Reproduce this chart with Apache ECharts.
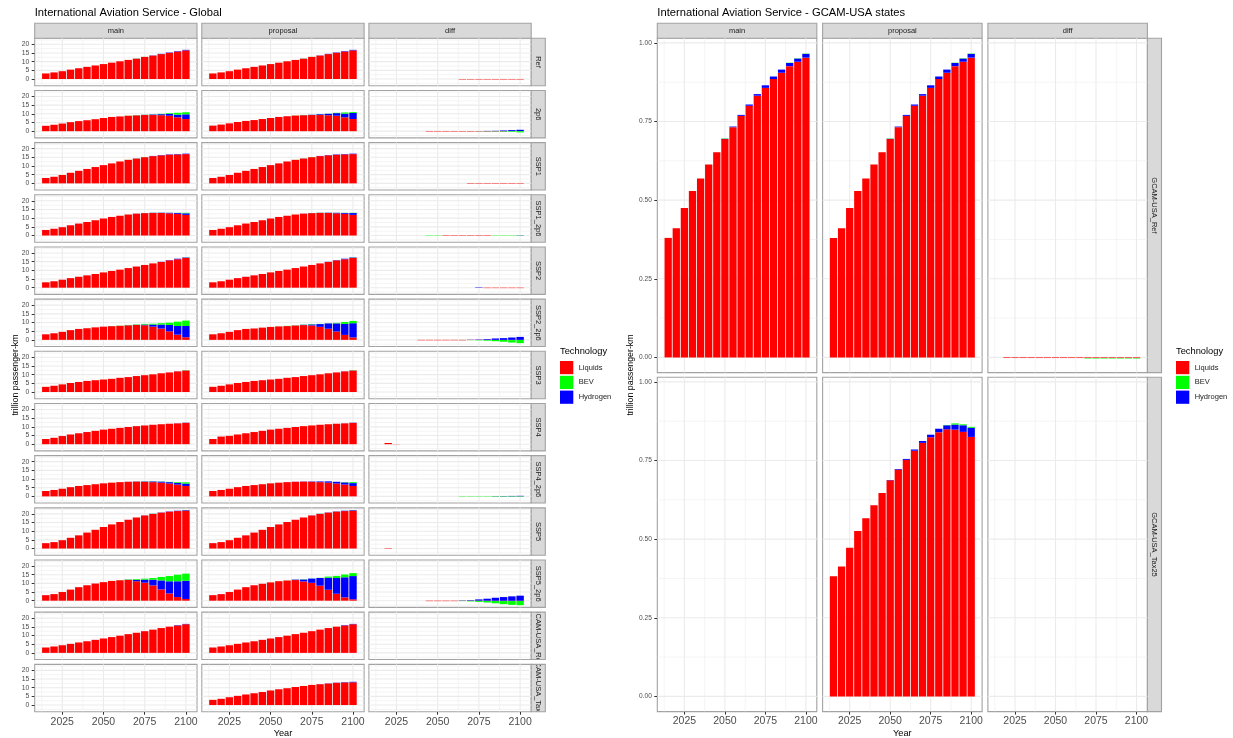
<!DOCTYPE html>
<html>
<head>
<meta charset="utf-8">
<title>International Aviation Service</title>
<script src="https://cdn.jsdelivr.net/npm/echarts@6/dist/echarts.min.js"></script>
<style>
  html, body { margin: 0; padding: 0; background: #ffffff; }
  #chart { width: 1233px; height: 738px; }
</style>
</head>
<body>
<div id="chart"></div>
<script>
// ---------------------------------------------------------------
// Data: trillion passenger-km by technology, 2015-2100
// ---------------------------------------------------------------
const years = [2015,2020,2025,2030,2035,2040,2045,2050,2055,2060,2065,2070,2075,2080,2085,2090,2095,2100];
const scenarios = ['Ref','2p6','SSP1','SSP1_2p6','SSP2','SSP2_2p6','SSP3','SSP4','SSP4_2p6','SSP5','SSP5_2p6','GCAM-USA_Ref','GCAM-USA_Tax25'];
const versions = ['main','proposal','diff'];
const techs = ['Liquids','BEV','Hydrogen'];
const xTickYears = [2025, 2050, 2075, 2100];
const globalTicks = [0, 5, 10, 15, 20];
const statesTicks = [0, 0.25, 0.5, 0.75, 1];
const zeros18 = [0,0,0,0,0,0,0,0,0,0,0,0,0,0,0,0,0,0];

// Global — Ref
const g_Ref_main_liq = [3.2,3.8,4.5,5.4,6.2,7.0,7.8,8.6,9.4,10.2,11.0,11.7,12.75,13.5,14.35,15.1,15.85,16.5];
const g_Ref_main_bev = [0,0,0,0,0,0,0,0,0,0,0,0.1,0.05,0,0,0,0,0];
const g_Ref_main_h2  = [0,0,0,0,0,0,0,0,0,0,0,0.05,0,0.1,0.15,0.2,0.25,0.3];
const g_Ref_prop_liq = [3.2,3.8,4.5,5.4,6.2,7.0,7.8,8.6,9.4,10.2,11.0,11.7,12.75,13.5,14.35,15.1,15.85,16.5];
const g_Ref_prop_bev = [0,0,0,0,0,0,0,0,0,0,0,0.1,0.05,0,0,0,0,0];
const g_Ref_prop_h2  = [0,0,0,0,0,0,0,0,0,0,0,0.05,0,0.1,0.15,0.2,0.25,0.3];
const g_Ref_diff_liq = [0,0,0,0,0,0,0,0,0,0,-0.25,-0.25,-0.25,-0.25,-0.25,-0.25,-0.25,-0.25];

// Global — 2p6
const g_2p6_main_liq = [3.1,3.7,4.4,5.2,5.8,6.3,6.9,7.6,8.2,8.5,8.9,9.1,9.3,9.3,9.2,8.9,8.0,7.0];
const g_2p6_main_bev = [0,0,0,0,0,0,0,0,0,0,0.05,0.1,0.1,0.1,0.2,0.4,1.1,1.2];
const g_2p6_main_h2  = [0,0,0,0,0,0,0,0,0,0,0,0.05,0.1,0.3,0.6,1.1,1.5,2.7];
const g_2p6_prop_liq = [3.2,3.8,4.5,5.3,5.9,6.4,7.0,7.6,8.2,8.6,9.0,9.2,9.3,9.3,9.2,8.9,8.0,7.0];
const g_2p6_prop_bev = [0,0,0,0,0,0,0,0,0,0,0.05,0.1,0.05,0.05,0.1,0.2,0.7,0.5];
const g_2p6_prop_h2  = [0,0,0,0,0,0,0,0,0,0,0,0.05,0.15,0.45,0.8,1.5,2.1,3.5];
const g_2p6_diff_liq = [0,0,0,0,0,0,-0.25,-0.25,-0.25,-0.25,-0.25,-0.25,-0.2,-0.2,-0.2,-0.2,0,0];
const g_2p6_diff_bev = [0,0,0,0,0,0,0,0,0,0,0,0,-0.05,-0.1,-0.15,-0.2,-0.4,-0.7];
const g_2p6_diff_h2  = [0,0,0,0,0,0,0,0,0,0,0,0,0.05,0.15,0.2,0.4,0.6,0.8];

// Global — SSP1
const g_SSP1_main_liq = [3.1,3.8,4.8,6.1,7.2,8.3,9.4,10.5,11.5,12.6,13.55,14.3,15.1,15.7,16.15,16.5,16.7,16.85];
const g_SSP1_main_bev = [0,0,0,0,0,0,0,0,0,0,0.05,0.05,0.1,0,0,0,0,0];
const g_SSP1_main_h2  = [0,0,0,0,0,0,0,0,0,0,0,0.05,0,0.1,0.15,0.2,0.2,0.25];
const g_SSP1_prop_liq = [3.1,3.8,4.8,6.1,7.2,8.3,9.4,10.5,11.5,12.6,13.55,14.3,15.1,15.7,16.15,16.5,16.7,16.85];
const g_SSP1_prop_bev = [0,0,0,0,0,0,0,0,0,0,0.05,0.05,0.1,0,0,0,0,0];
const g_SSP1_prop_h2  = [0,0,0,0,0,0,0,0,0,0,0,0.05,0,0.1,0.15,0.2,0.2,0.25];
const g_SSP1_diff_liq = [0,0,0,0,0,0,0,0,0,0,0,-0.25,-0.25,-0.25,-0.25,-0.25,-0.25,-0.25];

// Global — SSP1_2p6
const g_SSP1_2p6_main_liq = [3.2,3.9,4.8,5.9,6.9,7.8,8.8,9.8,10.7,11.4,12.1,12.6,12.9,13.0,13.0,12.8,12.5,11.9];
const g_SSP1_2p6_main_bev = [0,0,0,0,0,0,0,0,0,0,0,0,0.05,0.05,0.05,0.05,0.1,0.3];
const g_SSP1_2p6_main_h2  = [0,0,0,0,0,0,0,0,0,0,0,0.05,0.05,0.1,0.15,0.3,0.5,0.9];
const g_SSP1_2p6_prop_liq = [3.2,3.9,4.8,5.9,6.9,7.8,8.8,9.8,10.7,11.4,12.1,12.6,12.9,13.0,13.0,12.8,12.5,11.9];
const g_SSP1_2p6_prop_bev = [0,0,0,0,0,0,0,0,0,0,0,0,0.05,0.05,0.05,0.05,0.1,0.15];
const g_SSP1_2p6_prop_h2  = [0,0,0,0,0,0,0,0,0,0,0,0.05,0.05,0.1,0.15,0.3,0.5,1.05];
const g_SSP1_2p6_diff_liq = [0,0,0,0,0,0,0,0,-0.25,-0.25,-0.25,-0.25,-0.25,-0.25,0,0,0,0];
const g_SSP1_2p6_diff_bev = [0,0,0,0,0,0,-0.2,-0.2,0,0,0,0,0,0,-0.2,-0.2,-0.2,-0.15];
const g_SSP1_2p6_diff_h2  = [0,0,0,0,0,0,0,0,0,0,0,0,0,0,0,0,0,0.15];

// Global — SSP2
const g_SSP2_main_liq = [3.1,3.7,4.6,5.5,6.3,7.1,7.9,8.8,9.6,10.4,11.3,12.2,13.1,14.0,14.8,15.75,16.4,17.15];
const g_SSP2_main_bev = [0,0,0,0,0,0,0,0,0,0,0,0,0,0,0,0,0,0.1];
const g_SSP2_main_h2  = [0,0,0,0,0,0,0,0,0,0,0,0,0,0,0.1,0.15,0.3,0.25];
const g_SSP2_prop_liq = [3.1,3.7,4.6,5.5,6.3,7.1,7.9,8.8,9.6,10.4,11.3,12.2,13.1,14.0,14.8,15.75,16.4,17.15];
const g_SSP2_prop_bev = [0,0,0,0,0,0,0,0,0,0,0,0,0,0,0,0,0,0.1];
const g_SSP2_prop_h2  = [0,0,0,0,0,0,0,0,0,0,0,0,0,0,0.1,0.15,0.3,0.25];
const g_SSP2_diff_liq = [0,0,0,0,0,0,0,0,0,0,0,0,0,-0.25,-0.25,-0.25,-0.25,-0.25];
const g_SSP2_diff_h2  = [0,0,0,0,0,0,0,0,0,0,0,0,0.25,0,0,0,0,0];

// Global — SSP2_2p6
const g_SSP2_2p6_main_liq = [3.2,3.8,4.6,5.6,6.3,6.7,7.2,7.6,7.9,8.1,8.4,8.6,8.4,7.6,6.5,4.9,3.0,1.5];
const g_SSP2_2p6_main_bev = [0,0,0,0,0,0,0,0,0.05,0.1,0.15,0.2,0.4,0.5,0.8,1.3,2.5,3.1];
const g_SSP2_2p6_main_h2  = [0,0,0,0,0,0,0,0,0,0,0.05,0.1,0.4,1.2,2.3,3.7,5.0,6.5];
const g_SSP2_2p6_prop_liq = [3.2,3.8,4.6,5.6,6.3,6.55,7.05,7.45,7.75,7.95,8.25,8.5,8.3,7.5,6.4,4.8,2.85,1.4];
const g_SSP2_2p6_prop_bev = [0,0,0,0,0,0,0,0,0.05,0.1,0.1,0.1,0.2,0.1,0.1,0.3,1.1,1.3];
const g_SSP2_2p6_prop_h2  = [0,0,0,0,0,0,0,0,0,0,0.05,0.2,0.6,1.6,3.1,4.7,6.35,8.2];
const g_SSP2_2p6_diff_liq = [0,0,0,0,0,-0.25,-0.25,-0.25,-0.25,-0.25,-0.25,-0.1,-0.1,-0.1,-0.1,-0.1,-0.15,-0.1];
const g_SSP2_2p6_diff_bev = [0,0,0,0,0,0,0,0,0,0,-0.05,-0.1,-0.2,-0.4,-0.7,-1.0,-1.4,-1.8];
const g_SSP2_2p6_diff_h2  = [0,0,0,0,0,0,0,0,0,0,0,0.1,0.2,0.4,0.8,1.0,1.35,1.7];

// Global — SSP3
const g_SSP3_main_liq = [3.0,3.6,4.4,5.2,5.8,6.4,6.8,7.2,7.6,8.2,8.6,9.2,9.7,10.2,10.8,11.3,11.9,12.4];
const g_SSP3_main_bev = [0,0,0,0,0,0,0,0,0,0,0,0,0,0,0,0,0,0.15];
const g_SSP3_main_h2  = [0,0,0,0,0,0,0,0,0,0,0,0,0,0,0,0,0.05,0.05];
const g_SSP3_prop_liq = [3.0,3.6,4.4,5.2,5.8,6.4,6.8,7.2,7.6,8.2,8.6,9.2,9.7,10.2,10.8,11.3,11.9,12.4];
const g_SSP3_prop_bev = [0,0,0,0,0,0,0,0,0,0,0,0,0,0,0,0,0,0.15];
const g_SSP3_prop_h2  = [0,0,0,0,0,0,0,0,0,0,0,0,0,0,0,0,0.05,0.05];

// Global — SSP4
const g_SSP4_main_liq = [3.0,3.7,4.7,5.6,6.3,7.0,7.7,8.4,8.9,9.4,9.9,10.4,10.8,11.2,11.5,11.8,12.0,12.3];
const g_SSP4_main_h2  = [0,0,0,0,0,0,0,0,0,0,0,0,0,0,0,0,0.05,0.1];
const g_SSP4_prop_liq = [3.0,4.4,4.8,5.6,6.3,7.0,7.7,8.4,8.9,9.4,9.9,10.4,10.8,11.2,11.5,11.8,12.0,12.3];
const g_SSP4_prop_h2  = [0,0,0,0,0,0,0,0,0,0,0,0,0,0,0,0,0.05,0.1];
const g_SSP4_diff_liq = [0,0.7,0.1,0,0,0,0,0,0,0,0,0,0,0,0,0,0,0];

// Global — SSP4_2p6
const g_SSP4_2p6_main_liq = [3.1,3.7,4.4,5.3,6.0,6.5,7.0,7.5,7.9,8.2,8.4,8.5,8.4,8.2,7.9,7.4,6.8,6.0];
const g_SSP4_2p6_main_bev = [0,0,0,0,0,0,0,0,0,0,0,0.05,0.1,0.1,0.1,0.15,0.4,0.75];
const g_SSP4_2p6_main_h2  = [0,0,0,0,0,0,0,0,0,0,0.05,0.1,0.2,0.4,0.6,0.8,1.0,1.35];
const g_SSP4_2p6_prop_liq = [3.1,3.7,4.4,5.3,6.0,6.5,7.0,7.5,7.9,8.2,8.4,8.5,8.4,8.2,7.9,7.4,6.8,6.0];
const g_SSP4_2p6_prop_bev = [0,0,0,0,0,0,0,0,0,0,0,0,0,0,0,0,0.2,0.55];
const g_SSP4_2p6_prop_h2  = [0,0,0,0,0,0,0,0,0,0,0.05,0.1,0.2,0.4,0.75,1.0,1.25,1.65];
const g_SSP4_2p6_diff_bev = [0,0,0,0,0,0,0,0,0,0,-0.2,-0.2,-0.2,-0.2,-0.2,-0.2,-0.2,-0.2];
const g_SSP4_2p6_diff_h2  = [0,0,0,0,0,0,0,0,0,0,0,0,0,0,0.15,0.2,0.25,0.3];

// Global — SSP5
const g_SSP5_main_liq = [3.1,3.7,4.8,6.2,7.6,9.2,10.8,12.4,13.9,15.3,16.6,17.9,19.05,19.9,20.7,21.25,21.6,21.85];
const g_SSP5_main_bev = [0,0,0,0,0,0,0,0,0,0,0,0,0,0.1,0,0,0,0.05];
const g_SSP5_main_h2  = [0,0,0,0,0,0,0,0,0,0,0,0,0.05,0.1,0.1,0.15,0.2,0.3];
const g_SSP5_prop_liq = [3.1,3.7,4.8,6.2,7.6,9.2,10.8,12.4,13.9,15.3,16.6,17.9,19.05,19.9,20.7,21.25,21.6,21.85];
const g_SSP5_prop_bev = [0,0,0,0,0,0,0,0,0,0,0,0,0,0.1,0,0,0,0.05];
const g_SSP5_prop_h2  = [0,0,0,0,0,0,0,0,0,0,0,0,0.05,0.1,0.1,0.15,0.2,0.3];
const g_SSP5_diff_liq = [0,0.25,0,0,0,0,0,0,0,0,0,0,0,0,0,0,0,0];

// Global — SSP5_2p6
const g_SSP5_2p6_main_liq = [3.2,3.8,5.0,6.4,7.8,8.9,9.9,10.7,11.4,11.8,12.0,11.2,10.4,8.8,6.5,4.2,2.1,1.0];
const g_SSP5_2p6_main_bev = [0,0,0,0,0,0,0,0,0,0.05,0.2,0.4,0.6,1.0,2.0,3.0,3.8,4.1];
const g_SSP5_2p6_main_h2  = [0,0,0,0,0,0,0,0,0,0,0.1,0.8,1.7,3.3,5.2,7.0,9.1,10.5];
const g_SSP5_2p6_prop_liq = [3.2,3.8,5.0,6.4,7.8,8.9,9.75,10.55,11.25,11.65,11.9,11.1,10.3,8.65,6.3,4.0,1.9,0.8];
const g_SSP5_2p6_prop_bev = [0,0,0,0,0,0,0,0,0,0.05,0.05,0.1,0.05,0.1,0.7,1.2,1.6,1.7];
const g_SSP5_2p6_prop_h2  = [0,0,0,0,0,0,0,0,0,0,0.25,1.1,2.45,4.45,6.9,9.1,11.6,13.4];
const g_SSP5_2p6_diff_liq = [0,0,0,0,0,0,-0.25,-0.25,-0.25,-0.25,-0.1,-0.1,-0.1,-0.15,-0.2,-0.2,-0.2,-0.2];
const g_SSP5_2p6_diff_bev = [0,0,0,0,0,0,0,0,0,0,-0.15,-0.3,-0.6,-0.9,-1.3,-1.8,-2.2,-2.4];
const g_SSP5_2p6_diff_h2  = [0,0,0,0,0,0,0,0,0,0,0.15,0.3,0.75,1.15,1.7,2.1,2.5,2.9];

// Global — GCAM-USA_Ref
const g_USARef_main_liq = [3.1,3.7,4.4,5.2,6.0,6.7,7.5,8.3,9.1,9.9,10.8,11.6,12.5,13.4,14.3,15.1,15.8,16.5];
const g_USARef_main_h2  = [0,0,0,0,0,0,0,0,0,0,0,0,0,0,0,0,0.2,0.2];
const g_USARef_prop_liq = [3.1,3.7,4.4,5.2,6.0,6.7,7.5,8.3,9.1,9.9,10.8,11.6,12.5,13.4,14.3,15.1,15.8,16.5];
const g_USARef_prop_h2  = [0,0,0,0,0,0,0,0,0,0,0,0,0,0,0,0,0.2,0.2];

// Global — GCAM-USA_Tax25 (proposal only)
const g_USATax_prop_liq = [3.0,3.6,4.5,5.3,6.1,6.8,7.5,8.4,9.1,9.7,10.4,11.0,11.6,12.0,12.4,12.8,13.0,13.1];
const g_USATax_prop_h2  = [0,0,0,0,0,0,0,0,0,0,0,0,0,0.05,0.1,0.1,0.2,0.3];

// GCAM-USA states — GCAM-USA_Ref
const s_Ref_main_liq = [0.380,0.411,0.475,0.529,0.569,0.613,0.652,0.694,0.732,0.768,0.800,0.832,0.857,0.885,0.905,0.926,0.940,0.953];
const s_Ref_main_bev = [0,0,0,0,0,0,0,0.001,0,0,0,0,0,0,0,0.001,0.001,0.001];
const s_Ref_main_h2  = [0,0,0,0,0,0,0,0.001,0.002,0.003,0.004,0.005,0.008,0.008,0.010,0.010,0.010,0.012];
const s_Ref_prop_liq = [0.380,0.411,0.475,0.529,0.569,0.613,0.652,0.694,0.732,0.768,0.800,0.832,0.857,0.885,0.905,0.926,0.940,0.953];
const s_Ref_prop_bev = [0,0,0,0,0,0,0,0.001,0,0,0,0,0,0,0,0.001,0.001,0.001];
const s_Ref_prop_h2  = [0,0,0,0,0,0,0,0.001,0.002,0.003,0.004,0.005,0.008,0.008,0.010,0.010,0.010,0.012];
const s_Ref_diff_liq = [0,-0.002,-0.002,-0.002,-0.002,-0.002,-0.002,-0.002,-0.002,-0.002,-0.002,-0.002,-0.002,-0.002,-0.002,-0.002,-0.002,-0.002];
const s_Ref_diff_bev = [0,0,0,0,0,0,0,0,0,0,0,-0.0015,-0.0015,-0.0015,-0.0015,-0.0015,-0.0015,-0.0015];

// GCAM-USA states — GCAM-USA_Tax25 (proposal only)
const s_Tax_prop_liq = [0.382,0.413,0.473,0.526,0.566,0.608,0.647,0.687,0.721,0.752,0.781,0.806,0.824,0.840,0.849,0.848,0.841,0.825];
const s_Tax_prop_bev = [0,0,0,0,0,0,0,0,0,0,0,0,0,0,0.001,0.004,0.003,0.003];
const s_Tax_prop_h2  = [0,0,0,0,0,0,0,0.001,0.002,0.003,0.004,0.006,0.008,0.011,0.013,0.016,0.021,0.029];

// ---------------------------------------------------------------
// Lookup tables built from the arrays above
// ---------------------------------------------------------------
const tri = (liq, bev, h2) => ({ Liquids: liq, BEV: bev, Hydrogen: h2 });

const globalTable = {
  'Ref':           { main: tri(g_Ref_main_liq, g_Ref_main_bev, g_Ref_main_h2), proposal: tri(g_Ref_prop_liq, g_Ref_prop_bev, g_Ref_prop_h2), diff: tri(g_Ref_diff_liq, zeros18, zeros18) },
  '2p6':           { main: tri(g_2p6_main_liq, g_2p6_main_bev, g_2p6_main_h2), proposal: tri(g_2p6_prop_liq, g_2p6_prop_bev, g_2p6_prop_h2), diff: tri(g_2p6_diff_liq, g_2p6_diff_bev, g_2p6_diff_h2) },
  'SSP1':          { main: tri(g_SSP1_main_liq, g_SSP1_main_bev, g_SSP1_main_h2), proposal: tri(g_SSP1_prop_liq, g_SSP1_prop_bev, g_SSP1_prop_h2), diff: tri(g_SSP1_diff_liq, zeros18, zeros18) },
  'SSP1_2p6':      { main: tri(g_SSP1_2p6_main_liq, g_SSP1_2p6_main_bev, g_SSP1_2p6_main_h2), proposal: tri(g_SSP1_2p6_prop_liq, g_SSP1_2p6_prop_bev, g_SSP1_2p6_prop_h2), diff: tri(g_SSP1_2p6_diff_liq, g_SSP1_2p6_diff_bev, g_SSP1_2p6_diff_h2) },
  'SSP2':          { main: tri(g_SSP2_main_liq, g_SSP2_main_bev, g_SSP2_main_h2), proposal: tri(g_SSP2_prop_liq, g_SSP2_prop_bev, g_SSP2_prop_h2), diff: tri(g_SSP2_diff_liq, zeros18, g_SSP2_diff_h2) },
  'SSP2_2p6':      { main: tri(g_SSP2_2p6_main_liq, g_SSP2_2p6_main_bev, g_SSP2_2p6_main_h2), proposal: tri(g_SSP2_2p6_prop_liq, g_SSP2_2p6_prop_bev, g_SSP2_2p6_prop_h2), diff: tri(g_SSP2_2p6_diff_liq, g_SSP2_2p6_diff_bev, g_SSP2_2p6_diff_h2) },
  'SSP3':          { main: tri(g_SSP3_main_liq, g_SSP3_main_bev, g_SSP3_main_h2), proposal: tri(g_SSP3_prop_liq, g_SSP3_prop_bev, g_SSP3_prop_h2), diff: tri(zeros18, zeros18, zeros18) },
  'SSP4':          { main: tri(g_SSP4_main_liq, zeros18, g_SSP4_main_h2), proposal: tri(g_SSP4_prop_liq, zeros18, g_SSP4_prop_h2), diff: tri(g_SSP4_diff_liq, zeros18, zeros18) },
  'SSP4_2p6':      { main: tri(g_SSP4_2p6_main_liq, g_SSP4_2p6_main_bev, g_SSP4_2p6_main_h2), proposal: tri(g_SSP4_2p6_prop_liq, g_SSP4_2p6_prop_bev, g_SSP4_2p6_prop_h2), diff: tri(zeros18, g_SSP4_2p6_diff_bev, g_SSP4_2p6_diff_h2) },
  'SSP5':          { main: tri(g_SSP5_main_liq, g_SSP5_main_bev, g_SSP5_main_h2), proposal: tri(g_SSP5_prop_liq, g_SSP5_prop_bev, g_SSP5_prop_h2), diff: tri(g_SSP5_diff_liq, zeros18, zeros18) },
  'SSP5_2p6':      { main: tri(g_SSP5_2p6_main_liq, g_SSP5_2p6_main_bev, g_SSP5_2p6_main_h2), proposal: tri(g_SSP5_2p6_prop_liq, g_SSP5_2p6_prop_bev, g_SSP5_2p6_prop_h2), diff: tri(g_SSP5_2p6_diff_liq, g_SSP5_2p6_diff_bev, g_SSP5_2p6_diff_h2) },
  'GCAM-USA_Ref':  { main: tri(g_USARef_main_liq, zeros18, g_USARef_main_h2), proposal: tri(g_USARef_prop_liq, zeros18, g_USARef_prop_h2), diff: tri(zeros18, zeros18, zeros18) },
  'GCAM-USA_Tax25':{ main: null, proposal: tri(g_USATax_prop_liq, zeros18, g_USATax_prop_h2), diff: null }
};

const statesScenarios = ['GCAM-USA_Ref', 'GCAM-USA_Tax25'];
const statesTable = {
  'GCAM-USA_Ref':   { main: tri(s_Ref_main_liq, s_Ref_main_bev, s_Ref_main_h2), proposal: tri(s_Ref_prop_liq, s_Ref_prop_bev, s_Ref_prop_h2), diff: tri(s_Ref_diff_liq, s_Ref_diff_bev, zeros18) },
  'GCAM-USA_Tax25': { main: null, proposal: tri(s_Tax_prop_liq, s_Tax_prop_bev, s_Tax_prop_h2), diff: null }
};

// ---------------------------------------------------------------
// Styling and layout
// ---------------------------------------------------------------
const FONT = '"Liberation Sans", Arial, Helvetica, sans-serif';
const techColors = { Liquids: '#FF0000', BEV: '#00FF00', Hydrogen: '#0000FF' };
const stackOrder = ['Liquids', 'Hydrogen', 'BEV'];     // bottom to top
const BORDER = '#A2A2A2';
const STRIP_FILL = '#D9D9D9';
const GRID_COLOR = '#EBEBEB';
const TEXT_DARK = '#1A1A1A';
const AXIS_TEXT = '#4D4D4D';

const X_MIN = 2008.275, X_MAX = 2106.725;
const xMinor = [2012.5, 2037.5, 2062.5, 2087.5];
const globalY = { min: -3.86, max: 23.46, major: globalTicks, minor: [-2.5, 2.5, 7.5, 12.5, 17.5, 22.5], fmt: v => String(v), labelSize: 6.8 };
const statesY = { min: -0.0483, max: 1.0145, major: statesTicks, minor: [0.125, 0.375, 0.625, 0.875], fmt: v => Number(v).toFixed(2), labelSize: 6.6 };

const globalLayout = { lefts: [34.7, 201.8, 368.9], width: 162.3, top0: 38.3, step: 52.17, height: 47.4 };
const statesLayout = { lefts: [657.3, 822.6, 987.9], width: 159.5, tops: [38.3, 377.3], height: 334.3 };
const STRIP_TOP = 23.3, STRIP_H = 15.0, SIDE_W = 14.1;

const grids = [], xAxes = [], yAxes = [], series = [], graphics = [];

function gridLineSeries(idx, yCfg) {
  return {
    type: 'custom', xAxisIndex: idx, yAxisIndex: idx, silent: true, animation: false, z: 1,
    data: [[2050, 0]],
    renderItem: function (params, api) {
      const kids = [];
      const seg = (a, b, w) => {
        const p1 = api.coord(a), p2 = api.coord(b);
        kids.push({ type: 'line', shape: { x1: p1[0], y1: p1[1], x2: p2[0], y2: p2[1] },
                    style: { stroke: GRID_COLOR, lineWidth: w } });
      };
      xMinor.forEach(v => seg([v, yCfg.min], [v, yCfg.max], 0.55));
      yCfg.minor.forEach(v => seg([X_MIN, v], [X_MAX, v], 0.55));
      xTickYears.forEach(v => seg([v, yCfg.min], [v, yCfg.max], 1.1));
      yCfg.major.forEach(v => seg([X_MIN, v], [X_MAX, v], 1.1));
      return { type: 'group', children: kids };
    }
  };
}

function addPanel(box, yCfg, stacks, showX, showY) {
  const idx = grids.length;
  grids.push({ left: box.x, top: box.y, width: box.w, height: box.h, show: true,
               backgroundColor: '#FFFFFF', borderColor: BORDER, borderWidth: 1.1, containLabel: false });
  xAxes.push({
    type: 'value', gridIndex: idx, min: X_MIN, max: X_MAX,
    axisLine: { show: false, onZero: false }, splitLine: { show: false },
    axisTick: { show: showX, customValues: xTickYears, length: 3, lineStyle: { color: '#333333', width: 1 } },
    axisLabel: { show: showX, customValues: xTickYears, formatter: v => String(v), fontSize: 10.5,
                 color: AXIS_TEXT, margin: 4.5, fontFamily: FONT }
  });
  yAxes.push({
    type: 'value', gridIndex: idx, min: yCfg.min, max: yCfg.max,
    axisLine: { show: false, onZero: false }, splitLine: { show: false },
    axisTick: { show: showY, customValues: yCfg.major, length: 3, lineStyle: { color: '#333333', width: 1 } },
    axisLabel: { show: showY, customValues: yCfg.major, formatter: yCfg.fmt, fontSize: yCfg.labelSize,
                 color: AXIS_TEXT, margin: 5.5, fontFamily: FONT }
  });
  series.push(gridLineSeries(idx, yCfg));
  if (stacks) {
    stackOrder.forEach(tech => {
      series.push({
        type: 'bar', name: tech, xAxisIndex: idx, yAxisIndex: idx,
        stack: 'panel' + idx, stackStrategy: 'samesign',
        barWidth: '90%', silent: true, animation: false, z: 3,
        itemStyle: { color: techColors[tech] },
        // value first so that the stack runs along the vertical axis
        encode: { x: 1, y: 0 },
        data: years.map((y, k) => [stacks[tech][k], y])
      });
    });
  }
}

// Side strip label drawn inside its own clipped grid, so long names are cut at the strip edges
function addClippedSideLabel(box, label) {
  const idx = grids.length;
  grids.push({ left: box.x, top: box.y, width: box.w, height: box.h, show: false, containLabel: false });
  xAxes.push({ type: 'value', gridIndex: idx, min: 0, max: 1, show: false });
  yAxes.push({ type: 'value', gridIndex: idx, min: 0, max: 1, show: false });
  series.push({
    type: 'custom', xAxisIndex: idx, yAxisIndex: idx, silent: true, animation: false, clip: true, z: 6,
    data: [[0.5, 0.5]],
    renderItem: function (params, api) {
      const c = api.coord([0.5, 0.5]);
      return { type: 'text', x: c[0], y: c[1], rotation: -Math.PI / 2,
               style: { text: label, font: '7.5px ' + FONT, fill: TEXT_DARK, align: 'center', verticalAlign: 'middle' } };
    }
  });
}

function stripRect(x, y, w, h) {
  graphics.push({ type: 'rect', silent: true, z: 0, shape: { x: x, y: y, width: w, height: h },
                  style: { fill: STRIP_FILL, stroke: BORDER, lineWidth: 1.1 } });
}
function text(x, y, str, size, opts) {
  const o = opts || {};
  graphics.push({ type: 'text', silent: true, z: 10, x: x, y: y, rotation: o.rotation || 0,
                  style: { text: str, font: (o.weight || 'normal') + ' ' + size + 'px ' + FONT,
                           fill: o.fill || '#000000', align: o.align || 'center', verticalAlign: 'middle' } });
}

// ---------------- Global block ----------------
scenarios.forEach((scen, r) => {
  const top = globalLayout.top0 + r * globalLayout.step;
  versions.forEach((ver, c) => {
    const box = { x: globalLayout.lefts[c], y: top, w: globalLayout.width, h: globalLayout.height };
    addPanel(box, globalY, globalTable[scen][ver], r === scenarios.length - 1, c === 0);
  });
  const sx = globalLayout.lefts[2] + globalLayout.width;
  stripRect(sx, top, SIDE_W, globalLayout.height);
  addClippedSideLabel({ x: sx + 0.6, y: top + 0.6, w: SIDE_W - 1.2, h: globalLayout.height - 1.2 }, scen);
});
versions.forEach((ver, c) => {
  stripRect(globalLayout.lefts[c], STRIP_TOP, globalLayout.width, STRIP_H);
  text(globalLayout.lefts[c] + globalLayout.width / 2, STRIP_TOP + STRIP_H / 2, ver, 7.5, { fill: TEXT_DARK });
});

// ---------------- GCAM-USA states block ----------------
statesScenarios.forEach((scen, r) => {
  const top = statesLayout.tops[r];
  versions.forEach((ver, c) => {
    const box = { x: statesLayout.lefts[c], y: top, w: statesLayout.width, h: statesLayout.height };
    addPanel(box, statesY, statesTable[scen][ver], r === statesScenarios.length - 1, c === 0);
  });
  const sx = statesLayout.lefts[2] + statesLayout.width;
  stripRect(sx, top, SIDE_W, statesLayout.height);
  text(sx + SIDE_W / 2, top + statesLayout.height / 2, scen, 7.5, { fill: TEXT_DARK, rotation: -Math.PI / 2 });
});
versions.forEach((ver, c) => {
  stripRect(statesLayout.lefts[c], STRIP_TOP, statesLayout.width, STRIP_H);
  text(statesLayout.lefts[c] + statesLayout.width / 2, STRIP_TOP + STRIP_H / 2, ver, 7.5, { fill: TEXT_DARK });
});

// ---------------- Titles and axis titles ----------------
text(34.7, 13.3, 'International Aviation Service - Global', 11.2, { align: 'left' });
text(657.3, 13.3, 'International Aviation Service - GCAM-USA states', 11.2, { align: 'left' });
text(15.7, 375, 'trillion passenger-km', 8.8, { rotation: Math.PI / 2 });
text(631, 375, 'trillion passenger-km', 8.8, { rotation: Math.PI / 2 });
text(283, 733, 'Year', 9.2);
text(902.3, 733, 'Year', 9.2);

// ---------------- Legends ----------------
function legend(x0) {
  text(x0, 351, 'Technology', 9.3, { align: 'left' });
  techs.forEach((tech, k) => {
    const y = 361 + k * 14.8;
    graphics.push({ type: 'rect', silent: true, z: 10, shape: { x: x0, y: y, width: 13.3, height: 13.2 },
                    style: { fill: techColors[tech] } });
    text(x0 + 18.7, y + 6.6, tech, 7.5, { align: 'left', fill: TEXT_DARK });
  });
}
legend(560);
legend(1176);

// ---------------------------------------------------------------
const chart = echarts.init(document.getElementById('chart'), null, { renderer: 'canvas' });
chart.setOption({
  animation: false,
  backgroundColor: '#FFFFFF',
  textStyle: { fontFamily: FONT },
  grid: grids,
  xAxis: xAxes,
  yAxis: yAxes,
  series: series,
  graphic: { elements: graphics }
});
</script>
</body>
</html>
